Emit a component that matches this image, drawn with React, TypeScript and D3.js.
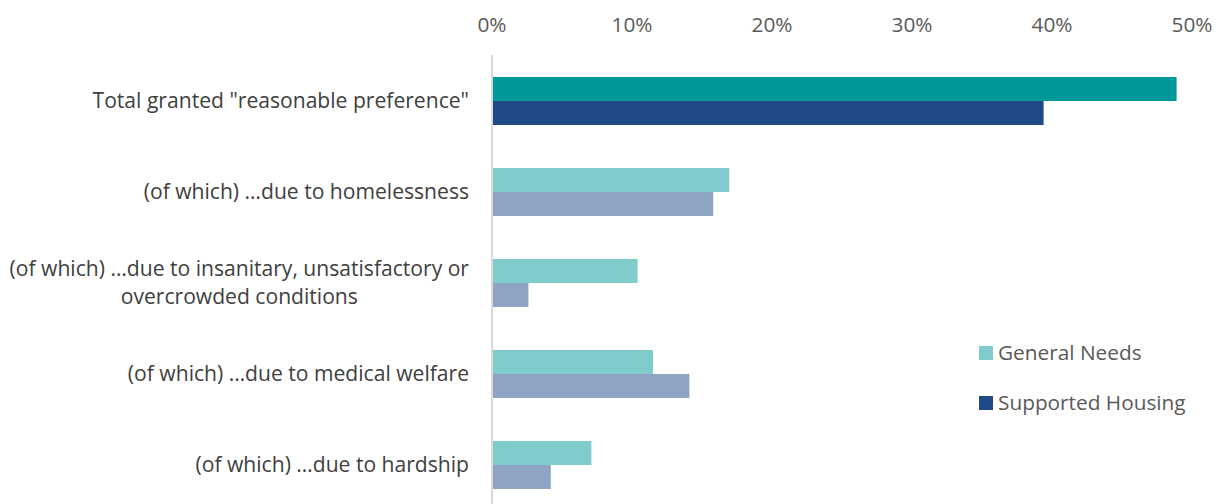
import React, { useEffect, useRef } from "react";
import * as d3 from "d3";

const categories = [
  'Total granted "reasonable preference"',
  "(of which) …due to homelessness",
  "(of which) …due to insanitary, unsatisfactory or|overcrowded conditions",
  "(of which) …due to medical welfare",
  "(of which) …due to hardship",
];
const generalNeeds = [48.9, 16.95, 10.4, 11.5, 7.1];
const supportedHousing = [39.4, 15.8, 2.6, 14.1, 4.2];
const ticks = [0, 10, 20, 30, 40, 50];
const seriesNames = ["General Needs", "Supported Housing"];

const W = 1224;
const H = 504;
const FONT = "Open Sans, sans-serif";
const FS = 20.8;
const FS_LABEL = 21.1;

export default function App() {
  const ref = useRef<SVGSVGElement>(null);
  useEffect(() => {
    const svg = d3.select(ref.current);
    svg.selectAll("*").remove();
    const x = d3.scaleLinear().domain([0, 50]).range([492, 1192]);
    const y = d3.scaleBand<number>().domain(categories.map((_, i) => i)).range([55.5, 510.5]);
    const step = y.step();
    const barH = 24;

    svg.append("g").selectAll("text").data(ticks).join("text")
      .attr("x", (d) => x(d)).attr("y", 32)
      .attr("text-anchor", "middle")
      .attr("font-family", FONT).attr("font-size", FS).attr("fill", "#595959")
      .text((d) => d + "%");

    const colorsGN = ["#009999", "#80CBCB", "#80CBCB", "#80CBCB", "#80CBCB"];
    const colorsSH = ["#204A87", "#8FA4C3", "#8FA4C3", "#8FA4C3", "#8FA4C3"];

    categories.forEach((c, i) => {
      const cy = (y(i) as number) + step / 2;
      svg.append("rect").attr("x", x(0)).attr("y", cy - barH)
        .attr("width", x(generalNeeds[i]) - x(0)).attr("height", barH).attr("fill", colorsGN[i]);
      svg.append("rect").attr("x", x(0)).attr("y", cy)
        .attr("width", x(supportedHousing[i]) - x(0)).attr("height", barH).attr("fill", colorsSH[i]);

      const lines = c.split("|");
      if (lines.length === 1) {
        svg.append("text").attr("x", 469).attr("y", cy + 7)
          .attr("text-anchor", "end").attr("font-family", FONT).attr("font-size", FS_LABEL)
          .attr("fill", "#404040").text(lines[0]);
      } else {
        const t1 = svg.append("text").attr("x", 469).attr("y", cy - 14 + 7)
          .attr("text-anchor", "end").attr("font-family", FONT).attr("font-size", FS_LABEL)
          .attr("fill", "#404040").text(lines[0]);
        const w1 = (t1.node() as SVGTextElement).getComputedTextLength();
        svg.append("text").attr("x", 469 - w1 / 2).attr("y", cy + 14 + 7)
          .attr("text-anchor", "middle").attr("font-family", FONT).attr("font-size", FS_LABEL)
          .attr("fill", "#404040").text(lines[1]);
      }
    });

    svg.append("line").attr("x1", x(0)).attr("x2", x(0)).attr("y1", 55).attr("y2", H)
      .attr("stroke", "#D9D9D9").attr("stroke-width", 2);

    const legColors = ["#80CBCB", "#204A87"];
    seriesNames.forEach((s, i) => {
      const ly = 353 + i * 50;
      svg.append("rect").attr("x", 979).attr("y", ly - 7).attr("width", 14).attr("height", 14)
        .attr("fill", legColors[i]);
      svg.append("text").attr("x", 998).attr("y", ly + 7)
        .attr("font-family", FONT).attr("font-size", FS).attr("fill", "#595959").text(s);
    });
  }, []);
  return (
    <svg ref={ref} width={W} height={H}
      style={{ position: "absolute", left: 0, top: 0, background: "#fff" }} />
  );
}
